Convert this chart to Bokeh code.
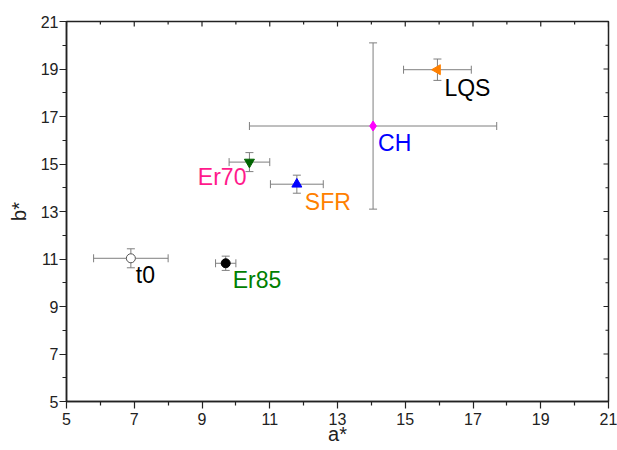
from bokeh.plotting import figure
from bokeh.models import ColumnDataSource, Range1d, FixedTicker, Whisker, TeeHead
from bokeh.core.properties import value
from bokeh.embed import file_html
from bokeh.resources import INLINE
import math

# ---- data ----
names = ["t0", "Er85", "Er70", "SFR", "CH", "LQS"]
a_star = [6.9, 9.7, 10.4, 11.8, 14.05, 15.95]
b_star = [11.03, 10.82, 15.08, 14.15, 16.6, 18.97]
a_err = [1.1, 0.3, 0.6, 0.78, 3.65, 1.0]
b_err = [0.4, 0.3, 0.4, 0.38, 3.5, 0.45]
ticks = [5, 7, 9, 11, 13, 15, 17, 19, 21]
minor = [6, 8, 10, 12, 14, 16, 18, 20]
x_lo, x_hi = 5, 21
y_lo, y_hi = 5, 21

# ---- styles ----
markers = ["circle", "circle", "inverted_triangle", "triangle", "diamond", "triangle"]
angles = [0, 0, 0, 0, 0, math.pi / 2]
fills = ["white", "black", "#006400", "#0000ff", "#ff00ff", "#ff8000"]
lines = ["#555555", "black", "#006400", "#0000ff", "#ff00ff", "#ff8000"]
sizes = [9, 9, 10, 10, 10, 10]
label_colors = ["black", "#008000", "#ff1a8c", "#ff8000", "#0000ff", "black"]
x_off = [5, 7, -3, 8, 5, 7]
y_off = [17, 17, 15, 18, 17, 18]
align = ["left", "left", "right", "left", "left", "left"]

FONT = "Liberation Sans"
AX = "#222222"

src = ColumnDataSource(dict(
    a=a_star, b=b_star,
    a_lo=[v - e for v, e in zip(a_star, a_err)],
    a_hi=[v + e for v, e in zip(a_star, a_err)],
    b_lo=[v - e for v, e in zip(b_star, b_err)],
    b_hi=[v + e for v, e in zip(b_star, b_err)],
    marker=markers, angle=angles, fill=fills, line=lines, size=sizes,
    name=names, lc=label_colors, xo=x_off, yo=y_off, al=align,
))

p = figure(width=617, height=450, output_backend="svg", toolbar_location=None,
           x_range=Range1d(x_lo, x_hi), y_range=Range1d(y_lo, y_hi),
           min_border_left=66, min_border_right=9, min_border_top=21,
           min_border_bottom=49)
p.grid.visible = False
p.outline_line_color = AX
p.outline_line_width = 1.5
p.background_fill_color = "white"
p.border_fill_color = "white"

tk = FixedTicker(ticks=ticks, minor_ticks=minor)
for ax in (p.xaxis[0], p.yaxis[0]):
    ax.ticker = tk
    ax.axis_line_color = AX
    ax.axis_line_width = 1.5
    ax.major_tick_line_color = AX
    ax.minor_tick_line_color = AX
    ax.major_tick_line_width = 1.2
    ax.minor_tick_line_width = 1.2
    ax.major_tick_in = 0
    ax.major_tick_out = 7
    ax.minor_tick_in = 0
    ax.minor_tick_out = 4
    ax.major_label_text_font = FONT
    ax.major_label_text_font_size = "16px"
    ax.major_label_text_color = AX
    ax.axis_label_text_font = FONT
    ax.axis_label_text_font_size = "20px"
    ax.axis_label_text_font_style = "normal"
    ax.axis_label_text_color = AX

p.xaxis.major_label_standoff = 4
p.xaxis.axis_label_standoff = -5
p.yaxis.major_label_standoff = 1
p.yaxis.axis_label_standoff = 8
p.xaxis.axis_label = "a*"
p.yaxis.axis_label = "b*"
p.yaxis.major_label_orientation = "horizontal"

# inward ticks on the top and right frame edges
top_major = ColumnDataSource(dict(x=ticks, y=[y_hi] * len(ticks)))
top_minor = ColumnDataSource(dict(x=minor, y=[y_hi] * len(minor)))
right_major = ColumnDataSource(dict(x=[x_hi] * len(ticks), y=ticks))
right_minor = ColumnDataSource(dict(x=[x_hi] * len(minor), y=minor))
p.ray(x="x", y="y", source=top_major, length=5, length_units="screen",
      angle=-math.pi / 2, line_color=AX, line_width=1.2)
p.ray(x="x", y="y", source=top_minor, length=3, length_units="screen",
      angle=-math.pi / 2, line_color=AX, line_width=1.2)
p.ray(x="x", y="y", source=right_major, length=5, length_units="screen",
      angle=math.pi, line_color=AX, line_width=1.2)
p.ray(x="x", y="y", source=right_minor, length=3, length_units="screen",
      angle=math.pi, line_color=AX, line_width=1.2)

err_color = "#7f7f7f"
wx = Whisker(source=src, base="b", lower="a_lo", upper="a_hi", dimension="width",
             line_color=err_color, line_width=1,
             lower_head=TeeHead(size=8, line_color=err_color, line_width=1),
             upper_head=TeeHead(size=8, line_color=err_color, line_width=1))
wy = Whisker(source=src, base="a", lower="b_lo", upper="b_hi", dimension="height",
             line_color=err_color, line_width=1,
             lower_head=TeeHead(size=8, line_color=err_color, line_width=1),
             upper_head=TeeHead(size=8, line_color=err_color, line_width=1))
p.add_layout(wx)
p.add_layout(wy)

p.scatter(x="a", y="b", source=src, marker="marker", angle="angle",
          fill_color="fill", line_color="line", size="size", line_width=1)

p.text(x="a", y="b", text="name", source=src, x_offset="xo", y_offset="yo",
       text_align="al", text_baseline="middle", text_color="lc",
       text_font=value(FONT), text_font_size="23px")

open("out.html", "w").write(file_html(p, INLINE))
